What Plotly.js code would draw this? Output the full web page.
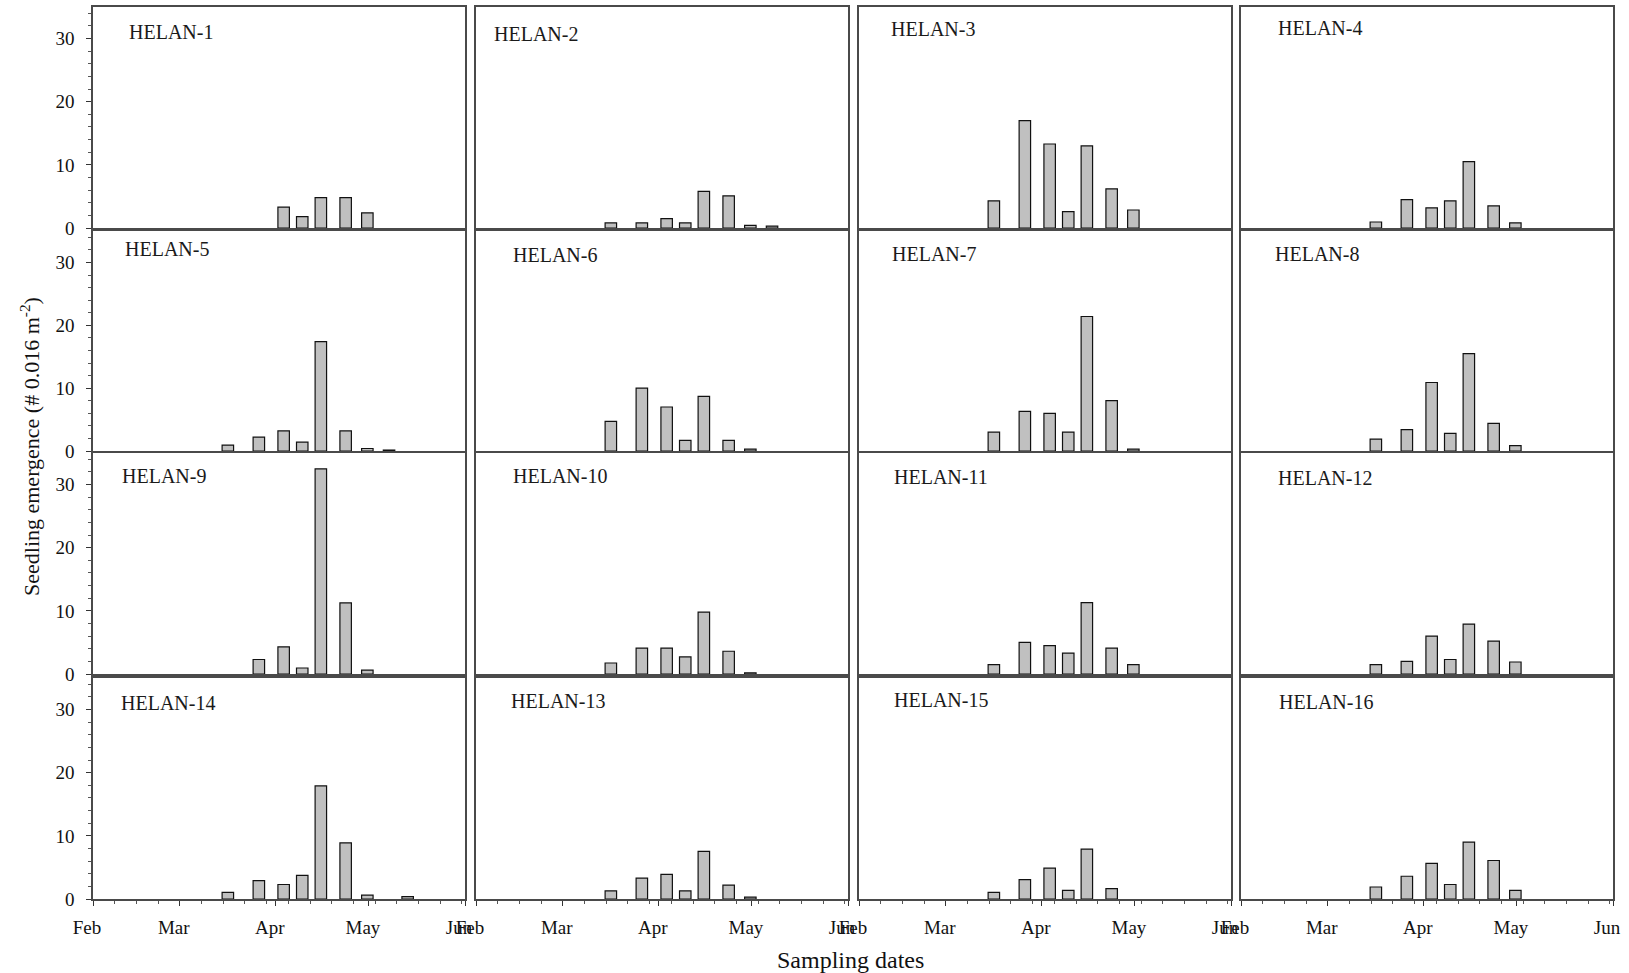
<!DOCTYPE html>
<html>
<head>
<meta charset="utf-8">
<script src="https://cdn.plot.ly/plotly-3.0.1.min.js"></script>
<style>html,body{margin:0;padding:0;background:#fff;}#chart{width:1629px;height:973px;}</style>
</head>
<body>
<div id="chart"></div>
<script>
// ---------------- DATA ----------------
var samplingDates = ['2011-03-16 12:00','2011-03-26 12:00','2011-04-03 12:00','2011-04-09 12:00','2011-04-15 12:00','2011-04-23 12:00','2011-04-30 12:00','2011-05-07 12:00','2011-05-13 12:00'];
var panelNames = ['HELAN-1','HELAN-2','HELAN-3','HELAN-4','HELAN-5','HELAN-6','HELAN-7','HELAN-8','HELAN-9','HELAN-10','HELAN-11','HELAN-12','HELAN-14','HELAN-13','HELAN-15','HELAN-16'];
var helan1  = [null, null, 3.3, 1.8, 4.8, 4.8, 2.4, null, null];
var helan2  = [0.8, 0.8, 1.5, 0.8, 5.8, 5.1, 0.4, 0.3, null];
var helan3  = [4.3, 17.0, 13.3, 2.6, 13.0, 6.2, 2.85, null, null];
var helan4  = [0.95, 4.5, 3.2, 4.3, 10.5, 3.5, 0.8, null, null];
var helan5  = [0.95, 2.2, 3.2, 1.4, 17.4, 3.2, 0.4, 0.15, null];
var helan6  = [4.7, 10.0, 7.0, 1.7, 8.7, 1.7, 0.3, null, null];
var helan7  = [3.0, 6.3, 6.0, 3.0, 21.4, 8.0, 0.3, null, null];
var helan8  = [1.9, 3.4, 10.9, 2.8, 15.5, 4.4, 0.85, null, null];
var helan9  = [null, 2.3, 4.3, 0.95, 32.5, 11.25, 0.6, null, null];
var helan10 = [1.74, 4.1, 4.1, 2.7, 9.8, 3.6, 0.2, null, null];
var helan11 = [1.5, 5.0, 4.5, 3.3, 11.3, 4.1, 1.5, null, null];
var helan12 = [1.5, 2.0, 6.0, 2.3, 7.9, 5.2, 1.9, null, null];
var helan14 = [1.06, 2.9, 2.3, 3.75, 17.9, 8.9, 0.6, null, 0.37];
var helan13 = [1.3, 3.3, 3.9, 1.3, 7.55, 2.2, 0.3, null, null];
var helan15 = [1.06, 3.06, 4.9, 1.37, 7.9, 1.64, null, null, null];
var helan16 = [1.9, 3.6, 5.65, 2.3, 9.0, 6.1, 1.37, null, null];
var panelValues = [helan1, helan2, helan3, helan4, helan5, helan6, helan7, helan8, helan9, helan10, helan11, helan12, helan14, helan13, helan15, helan16];
var yTickVals = [0, 10, 20, 30];
var xTitle = 'Sampling dates';
var yTitle = 'Seedling emergence (# 0.016 m<sup>-2</sup>)';

// ---------------- LAYOUT / STYLE ----------------
var W = 1629, H = 973;
var colLeft = [93, 476, 859, 1241];
var colWidth = 372;
var rowTop = [7, 231, 453, 678];
var rowBottom = [228, 451, 674, 899];
// label offsets (px from panel's left / top edge)
var labelDx = [34, 16, 30, 35, 30, 35, 31, 32, 27, 35, 33, 35, 26, 33, 33, 36];
var labelDy = [25, 27, 22, 21, 18, 24, 23, 23, 23, 23, 24, 25, 25, 23, 22, 24];
var serif = 'Liberation Serif, Times New Roman, serif';
var barWidthMs = 3.7 * 86400000;

var traces = [];
var layout = {
  width: W, height: H,
  margin: {l: 0, r: 0, t: 0, b: 0},
  paper_bgcolor: '#ffffff', plot_bgcolor: '#ffffff',
  showlegend: false,
  bargap: 0,
  font: {family: serif, color: '#000', size: 19},
  annotations: []
};

for (var i = 0; i < 16; i++) {
  var r = Math.floor(i / 4), c = i % 4;
  var id = (i === 0) ? '' : String(i + 1);
  traces.push({
    type: 'bar',
    x: samplingDates,
    y: panelValues[i],
    width: barWidthMs,
    xaxis: 'x' + id, yaxis: 'y' + id,
    marker: {color: '#c0c0c0', line: {color: '#111', width: 1.2}},
    hoverinfo: 'x+y'
  });
  var xd = [colLeft[c] / W, (colLeft[c] + colWidth) / W];
  var yd = [1 - rowBottom[r] / H, 1 - rowTop[r] / H];
  var bottom = (r === 3), left = (c === 0);
  layout['xaxis' + id] = {
    domain: xd, anchor: 'y' + id, type: 'date',
    range: ['2011-02-01', '2011-06-01'],
    showgrid: false, zeroline: false,
    showline: true, mirror: true, linecolor: '#4a4a4a', linewidth: 1.6,
    tickmode: 'linear', tick0: '2011-02-01', dtick: 'M1', tickformat: '%b',
    ticks: bottom ? 'outside' : '', ticklen: 5, tickcolor: '#333', tickwidth: 1,
    showticklabels: bottom, ticklabelshift: -6, ticklabelstandoff: 6,
    tickfont: {family: serif, size: 19, color: '#111'},
    minor: bottom ? {ticks: 'outside', dtick: 7 * 86400000, tick0: '2011-02-01', ticklen: 3, tickcolor: '#555'} : {ticks: ''},
    fixedrange: true
  };
  layout['yaxis' + id] = {
    domain: yd, anchor: 'x' + id,
    range: [0, 35],
    showgrid: false, zeroline: false,
    showline: true, mirror: true, linecolor: '#4a4a4a', linewidth: 1.6,
    tickmode: 'array', tickvals: yTickVals,
    ticks: left ? 'outside' : '', ticklen: 5, tickcolor: '#333', tickwidth: 1,
    showticklabels: left, ticklabelstandoff: 8,
    tickfont: {family: serif, size: 19, color: '#111'},
    minor: left ? {ticks: 'outside', dtick: 2, tick0: 0, ticklen: 3, tickcolor: '#555'} : {ticks: ''},
    fixedrange: true
  };
  layout.annotations.push({
    xref: 'paper', yref: 'paper',
    x: (colLeft[c] + labelDx[i]) / W, y: 1 - (rowTop[r] + labelDy[i]) / H,
    xanchor: 'left', yanchor: 'middle',
    text: panelNames[i], showarrow: false,
    font: {family: serif, size: 20, color: '#1a1a1a'}
  });
}

layout.annotations.push({
  xref: 'paper', yref: 'paper', x: 850 / W, y: 1 - 960 / H,
  xanchor: 'center', yanchor: 'middle', text: xTitle, showarrow: false,
  font: {family: serif, size: 24, color: '#111'}
});
layout.annotations.push({
  xref: 'paper', yref: 'paper', x: 30 / W, y: 1 - 447 / H,
  xanchor: 'center', yanchor: 'middle', textangle: -90, text: yTitle, showarrow: false,
  font: {family: serif, size: 22, color: '#111'}
});

Plotly.newPlot('chart', traces, layout, {displayModeBar: false, staticPlot: true});
</script>
</body>
</html>
